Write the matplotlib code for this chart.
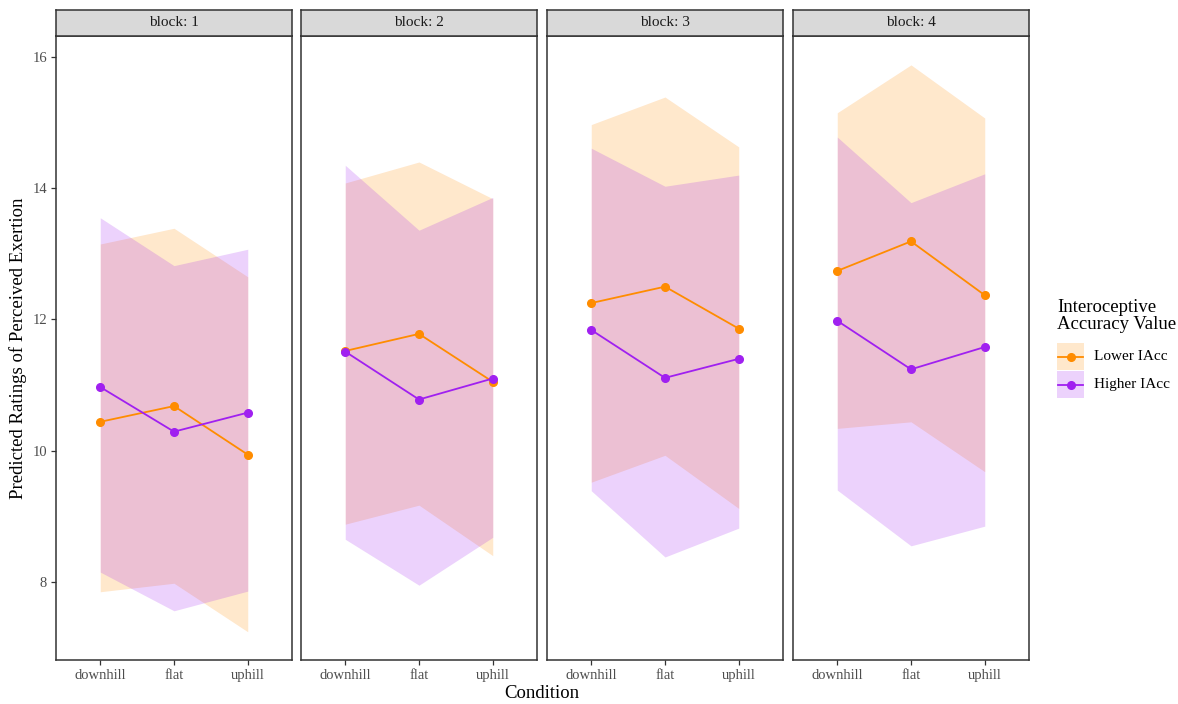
import matplotlib
matplotlib.use("Agg")
import matplotlib.pyplot as plt
from matplotlib.patches import Rectangle
from matplotlib.lines import Line2D

plt.rcParams['font.family'] = ['Liberation Serif', 'DejaVu Serif']

conditions = ["downhill", "flat", "uphill"]
blocks = ["1", "2", "3", "4"]
groups = ["Lower IAcc", "Higher IAcc"]

# fitted values per block: [downhill, flat, uphill]
lower_fit = [[10.44, 10.68, 9.94], [11.52, 11.78, 11.05], [12.25, 12.50, 11.86], [12.74, 13.19, 12.37]]
lower_lo = [[7.85, 7.98, 7.24], [8.88, 9.17, 8.40], [9.52, 9.93, 9.12], [10.34, 10.44, 9.68]]
lower_hi = [[13.15, 13.39, 12.65], [14.08, 14.40, 13.84], [14.97, 15.39, 14.63], [15.15, 15.88, 15.07]]

higher_fit = [[10.97, 10.29, 10.58], [11.51, 10.78, 11.10], [11.84, 11.11, 11.40], [11.98, 11.24, 11.58]]
higher_lo = [[8.15, 7.56, 7.86], [8.65, 7.95, 8.68], [9.39, 8.38, 8.82], [9.40, 8.55, 8.85]]
higher_hi = [[13.55, 12.82, 13.07], [14.35, 13.36, 13.86], [14.61, 14.03, 14.20], [14.78, 13.78, 14.22]]

colors = {"Lower IAcc": "#FF8C00", "Higher IAcc": "#A020F0"}
series = {
    "Lower IAcc": (lower_fit, lower_lo, lower_hi),
    "Higher IAcc": (higher_fit, higher_lo, higher_hi),
}

W, H = 1178, 704
fig = plt.figure(figsize=(W / 100, H / 100), dpi=100)

panel_x = [56, 301, 547, 793]
panel_w = 236
top, bottom = 36, 660
strip_top = 10

ymin, ymax = 6.81, 16.32
grey = "#4D4D4D"
frame = "#333333"

x = [1, 2, 3]
for i, b in enumerate(blocks):
    ax = fig.add_axes([panel_x[i] / W, 1 - bottom / H, panel_w / W, (bottom - top) / H])
    for g in groups:
        fit, lo, hi = series[g]
        ax.fill_between(x, lo[i], hi[i], color=colors[g], alpha=0.2, linewidth=0)
    for g in groups:
        fit, lo, hi = series[g]
        ax.plot(x, fit[i], color=colors[g], linewidth=1.3, marker="o", markersize=5.5, zorder=3)
    ax.set_xlim(0.4, 3.6)
    ax.set_ylim(ymin, ymax)
    ax.set_xticks(x)
    ax.set_xticklabels(conditions)
    ax.set_yticks([8, 10, 12, 14, 16])
    if i > 0:
        ax.tick_params(axis="y", left=False, labelleft=False)
    ax.tick_params(axis="both", colors=frame, labelcolor=grey, labelsize=10.5, length=3.5, width=0.9, pad=3)
    for s in ax.spines.values():
        s.set_color(frame)
        s.set_linewidth(1.1)
    # strip
    sax = fig.add_axes([panel_x[i] / W, 1 - top / H, panel_w / W, (top - strip_top) / H])
    sax.set_facecolor("#D9D9D9")
    sax.set_xticks([])
    sax.set_yticks([])
    for s in sax.spines.values():
        s.set_color(frame)
        s.set_linewidth(1.1)
    sax.text(0.5, 0.5, f"block: {b}", ha="center", va="center", fontsize=11, color="#1A1A1A",
             transform=sax.transAxes)

fig.text(542 / W, 1 - 693 / H, "Condition", ha="center", va="center", fontsize=13.5)
fig.text(18 / W, 1 - 348 / H, "Predicted Ratings of Perceived Exertion", ha="center", va="center",
         rotation=90, fontsize=13.5)

# legend drawn in a pixel-based axes
lx0, ly0, lw, lh = 1050, 290, 128, 115
lax = fig.add_axes([lx0 / W, 1 - (ly0 + lh) / H, lw / W, lh / H])
lax.set_xlim(lx0, lx0 + lw)
lax.set_ylim(ly0 + lh, ly0)
lax.axis("off")
lax.text(1057, 299, "Interoceptive\nAccuracy Value", ha="left", va="top", fontsize=13.5,
         linespacing=1.0)
key_top = 343
key_size = 28
for j, g in enumerate(groups):
    yt = key_top + j * key_size
    lax.add_patch(Rectangle((1057, yt), 27, 27, facecolor=colors[g], alpha=0.2, edgecolor="none"))
    yc = yt + 13.5
    lax.add_line(Line2D([1058, 1083], [yc, yc], color=colors[g], linewidth=1.3))
    lax.plot([1070.5], [yc], marker="o", markersize=5.5, color=colors[g])
    lax.text(1094, yc, g, ha="left", va="center", fontsize=11)

fig.savefig("out.png", dpi=100, facecolor="white")
